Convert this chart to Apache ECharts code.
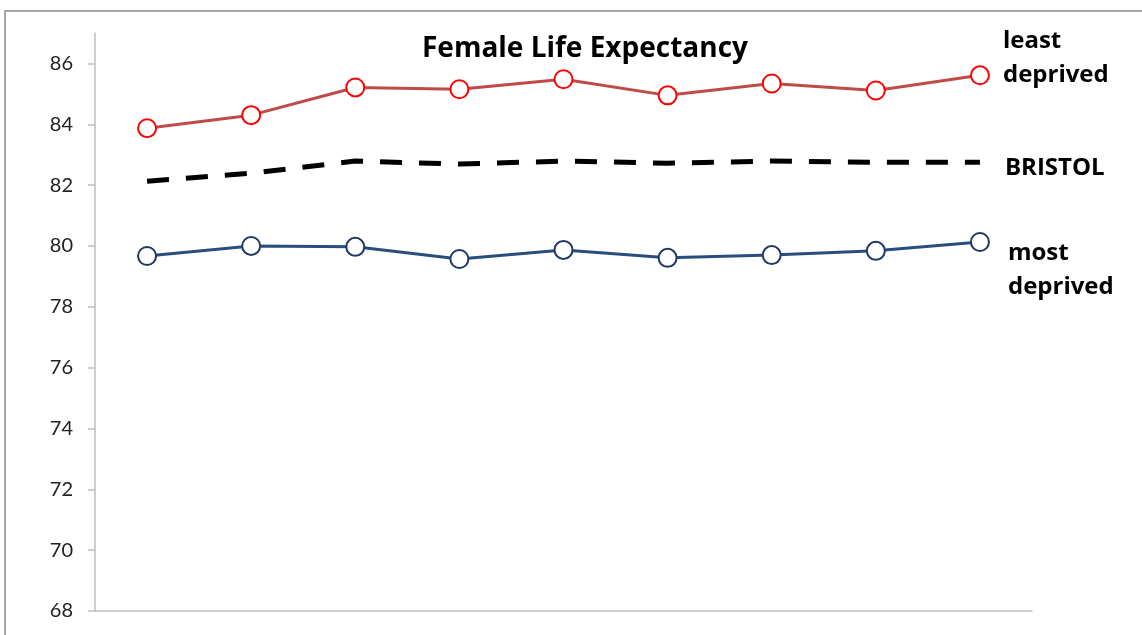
<!DOCTYPE html>
<html>
<head>
<meta charset="utf-8">
<script src="https://cdn.jsdelivr.net/npm/echarts@6/dist/echarts.min.js"></script>
<style>
  html, body { margin: 0; padding: 0; background: #ffffff; }
  #chart { width: 1142px; height: 635px; }
</style>
</head>
<body>
<div id="chart"></div>
<script>
// Nine time periods (unlabelled on the axis)
const periods = ['1', '2', '3', '4', '5', '6', '7', '8', '9'];
const leastDeprived = [83.87, 84.30, 85.21, 85.15, 85.48, 84.95, 85.34, 85.11, 85.61];
const bristol       = [82.13, 82.39, 82.79, 82.69, 82.79, 82.72, 82.79, 82.75, 82.75];
const mostDeprived  = [79.67, 80.00, 79.97, 79.57, 79.87, 79.61, 79.70, 79.84, 80.13];
const yTicks = { min: 68, max: 87, interval: 2 };

const TICK_FONT = 'Lato, "Open Sans", sans-serif';
const LABEL_FONT = '"Open Sans", Lato, sans-serif';
const axisGrey = '#bfbfbf';

const chart = echarts.init(document.getElementById('chart'), null, { renderer: 'canvas' });

chart.setOption({
  backgroundColor: '#ffffff',
  animation: false,
  title: {
    text: 'Female Life Expectancy',
    left: 580,
    textAlign: 'center',
    top: 30,
    textStyle: { fontFamily: LABEL_FONT, fontWeight: 'bold', fontSize: 28, color: '#000000' }
  },
  graphic: [{
    type: 'rect',
    shape: { x: 5, y: 11, width: 1200, height: 700 },
    style: { fill: 'none', stroke: '#8c8c8c', lineWidth: 1.5 },
    silent: true
  }],
  grid: { left: 95, right: 110, top: 33, bottom: 24, containLabel: false },
  xAxis: {
    type: 'category',
    data: periods,
    boundaryGap: true,
    axisLine: { lineStyle: { color: axisGrey, width: 1.5 } },
    axisTick: { alignWithLabel: true, length: 6, lineStyle: { color: axisGrey, width: 1.5 } },
    axisLabel: { show: false },
    splitLine: { show: false }
  },
  yAxis: {
    type: 'value',
    min: yTicks.min,
    max: yTicks.max,
    interval: yTicks.interval,
    axisLine: { show: true, lineStyle: { color: axisGrey, width: 1.5 } },
    axisTick: { show: true, length: 7, lineStyle: { color: axisGrey, width: 1.5 } },
    axisLabel: { margin: 22, fontFamily: TICK_FONT, fontSize: 20, color: '#222222',
                 showMaxLabel: false },
    splitLine: { show: false }
  },
  series: [
    {
      name: 'least deprived',
      type: 'line',
      data: leastDeprived,
      symbol: 'circle',
      symbolSize: 18,
      lineStyle: { color: '#be4b48', width: 3 },
      itemStyle: { color: '#ffffff', borderColor: '#ff0000', borderWidth: 2 },
      endLabel: {
        show: true,
        formatter: 'least\ndeprived',
        fontFamily: LABEL_FONT, fontWeight: 'bold', fontSize: 24, lineHeight: 34,
        color: '#000000', align: 'left', offset: [15, -17]
      }
    },
    {
      name: 'BRISTOL',
      type: 'line',
      data: bristol,
      symbol: 'none',
      lineStyle: { color: '#000000', width: 5, type: [22, 17] },
      endLabel: {
        show: true,
        formatter: 'BRISTOL',
        fontFamily: LABEL_FONT, fontWeight: 'bold', fontSize: 24,
        color: '#000000', align: 'left', offset: [17, 6]
      }
    },
    {
      name: 'most deprived',
      type: 'line',
      data: mostDeprived,
      symbol: 'circle',
      symbolSize: 18,
      lineStyle: { color: '#2a4d7f', width: 3 },
      itemStyle: { color: '#ffffff', borderColor: '#1f3864', borderWidth: 2 },
      endLabel: {
        show: true,
        formatter: 'most\ndeprived',
        fontFamily: LABEL_FONT, fontWeight: 'bold', fontSize: 24, lineHeight: 34,
        color: '#000000', align: 'left', offset: [20, 28]
      }
    }
  ]
});
</script>
</body>
</html>
